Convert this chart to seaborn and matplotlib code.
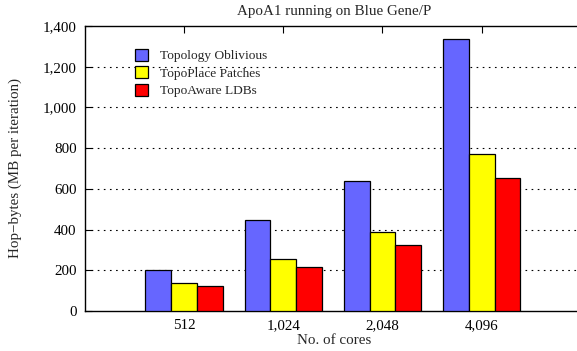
import matplotlib
matplotlib.use("Agg")
import matplotlib.pyplot as plt
import seaborn as sns
import pandas as pd

cores = ["512", "1,024", "2,048", "4,096"]
series = ["Topology Oblivious", "TopoPlace Patches", "TopoAware LDBs"]
oblivious = [200, 447, 638, 1336]
topoplace = [137, 255, 388, 771]
topoaware = [123, 216, 324, 653]
colors = ["#6666ff", "#ffff00", "#ff0000"]
yticks = [0, 200, 400, 600, 800, 1000, 1200, 1400]

rows = []
for name, vals in zip(series, [oblivious, topoplace, topoaware]):
    for c, v in zip(cores, vals):
        rows.append({"cores": c, "series": name, "value": v})
df = pd.DataFrame(rows)

sns.set_theme(style="white")
plt.rcParams["font.family"] = ["Liberation Serif", "DejaVu Serif"]

fig = plt.figure(figsize=(5.77, 3.51), dpi=100)
ax = fig.add_axes([85/577, 1 - 311/351, (577 - 85)/577 + 0.01, (311 - 26)/351])

sns.barplot(data=df, x="cores", y="value", hue="series", order=cores,
            hue_order=series, palette=colors, width=0.78, saturation=1,
            edgecolor="black", linewidth=0.9, ax=ax, zorder=3)

ax.set_xlim(-1, 4.02)
ax.set_ylim(0, 1400)
ax.set_yticks(yticks)
ax.set_yticklabels([f"{t:,}" for t in yticks], fontsize=10.8)
ax.set_xticks(range(len(cores)))
ax.set_xticklabels(cores, fontsize=10.8)
for y in yticks[1:-1]:
    ax.axhline(y, color="black", linestyle=(0, (1.5, 4)), linewidth=0.8, zorder=1)

ax.spines["right"].set_visible(False)
for s in ["left", "top", "bottom"]:
    ax.spines[s].set_color("black")
    ax.spines[s].set_linewidth(1.0)
ax.tick_params(axis="y", direction="in", length=5, width=0.8, left=True, pad=6, colors="black")
ax.tick_params(axis="x", direction="in", length=5, width=0.8, top=True, bottom=False, pad=6, colors="black")

ax.set_title("ApoA1 running on Blue Gene/P", fontsize=10.8, pad=8)
ax.set_xlabel("No. of cores", fontsize=10.8, labelpad=1)
ax.set_ylabel("Hop\u2212bytes (MB per iteration)", fontsize=10.8, labelpad=15)

leg = ax.legend(loc="upper left", bbox_to_anchor=(0.1, 0.92), frameon=False,
                fontsize=9.6, handlelength=1.0, handleheight=1.0,
                handletextpad=0.9, labelspacing=0.3, borderaxespad=0, borderpad=0)
for h in leg.legend_handles:
    h.set_edgecolor("black")

fig.savefig("out.png", dpi=100)
